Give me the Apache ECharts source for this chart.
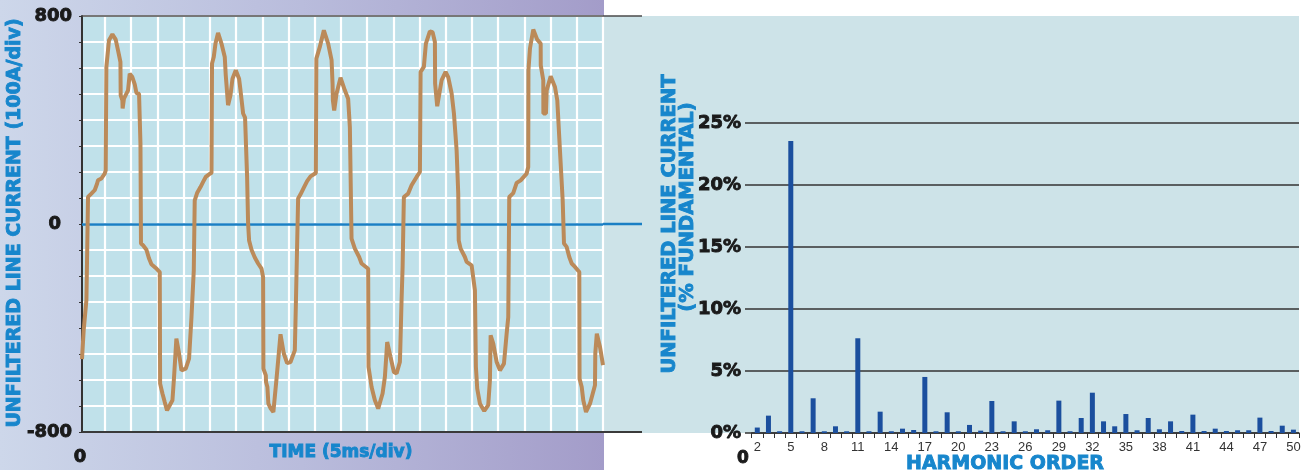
<!DOCTYPE html>
<html>
<head>
<meta charset="utf-8">
<script src="https://cdn.jsdelivr.net/npm/echarts@6/dist/echarts.min.js"></script>
<style>
html,body{margin:0;padding:0;background:#ffffff;}
#chart{width:1312px;height:470px;}
</style>
</head>
<body>
<div id="chart"></div>
<script>
// ---- Left panel: unfiltered line current waveform (time in ms, current in A) ----
const timeMs = [
  0, 0.32, 0.84, 1.15, 1.79, 2.42, 2.87, 3.05, 3.7, 4.33, 4.52, 4.65, 5.15, 5.8, 6.43, 6.87, 7.33, 7.38, 7.7, 7.75,
  8.0, 8.78, 9.1, 9.6, 10.06, 10.38, 10.88, 11.15, 11.25, 11.64, 12.29, 12.79, 13.24, 14.06, 14.83, 14.9, 15.34, 15.78, 16.22, 16.74,
  17.25, 17.56, 18.0, 18.51, 18.97, 19.79, 20.42, 20.88, 21.32, 21.5, 21.95, 22.6, 23.1, 23.6, 24.3, 24.7,
  24.8, 25.13, 25.46, 25.95, 26.6, 27.23, 27.42, 27.86, 28.32, 28.7, 29.33, 29.96, 30.23, 30.6, 30.73, 31.1, 31.49, 31.68, 31.87, 32.33,
  32.96, 33.59, 34.24, 34.54, 34.6, 35.06, 35.1, 35.36, 35.55, 36.0, 36.5, 37.1, 37.86, 38.49, 39.12, 39.77, 40.59, 40.78, 41.22, 41.68,
  42.31, 42.94, 43.59, 44.6,
  44.7, 45.36, 46.13, 46.95, 47.6, 47.79, 47.85, 48.1, 48.55, 49.31, 50.13, 50.76, 51.09, 51.41, 52.04, 52.86, 53.32, 54.58, 54.65, 55.23,
  55.86, 56.49, 57.33, 57.77, 58.21, 58.85, 59.49, 60.0, 60.63, 60.7, 60.95, 61.15, 61.39, 62.21, 62.86, 63.82, 64.45,
  64.58, 65.2, 65.59, 66.35, 66.87, 67.31, 67.35, 67.75, 68.26, 68.59, 69.35, 69.85, 70.5, 70.94, 71.45, 71.76, 71.85, 72.21, 73.03, 73.36,
  74.31, 74.62, 74.94, 75.13, 75.38, 75.9, 76.72, 77.48, 77.8, 77.94, 78.44, 79.09, 79.71, 80.48, 80.99, 81.3, 81.49, 82.25, 82.9, 83.66,
  84.81, 85.11,
  85.15, 85.44, 86.07, 86.83, 87.48, 87.5, 87.98, 88.0, 88.49, 88.63, 89.39, 90.21, 90.65, 91.16, 91.68, 91.93, 92.44, 92.94, 93.4, 94.03,
  94.85, 94.9, 95.31, 95.61, 96.13, 96.89, 97.84, 97.9, 98.19, 98.8, 99.37
];
const currentA = [
  -520, -409, -293, 104, 117, 130, 155, 168, 175, 194, 206, 604, 707, 730, 709, 668, 623, 495, 476, 444,
  482, 514, 578, 565, 537, 504, 501, 309, -75, -82, -99, -133, -155, -169, -185, -614, -652, -685, -717, -697,
  -678, -588, -441, -498, -563, -556, -518, -358, -178, 91, 119, 142, 162, 181, 192, 196,
  617, 642, 694, 735, 694, 642, 572, 457, 495, 559, 591, 559, 514, 508, 425, 409, 181, 2, -63, -99,
  -129, -152, -172, -204, -556, -582, -608, -627, -691, -710, -723, -595, -424, -498, -535, -531, -486, -319, 98, 114,
  140, 165, 183, 196,
  636, 681, 745, 694, 630, 540, 476, 437, 502, 563, 514, 482, 373, -56, -95, -127, -152, -172, -550, -627,
  -678, -710, -652, -588, -454, -512, -569, -575, -531, -486, -293, -165, 104, 117, 149, 181, 200,
  585, 604, 694, 741, 738, 700, 540, 453, 514, 553, 585, 565, 502, 425, 283, 117, -63, -95, -127, -146,
  -159, -165, -255, -550, -633, -691, -719, -697, -601, -428, -460, -531, -563, -537, -422, -358, 104, 119, 158, 168,
  194, 219,
  591, 675, 748, 709, 694, 610, 553, 425, 425, 514, 568, 527, 476, 283, 91, -75, -88, -127, -152, -165,
  -185, -595, -627, -678, -723, -691, -620, -498, -422, -473, -543
];
const leftYTickLabels = [800, 0, -800];

// ---- Right panel: harmonic spectrum (% of fundamental) ----
const harmonicOrders = ['2','3','4','5','6','7','8','9','10','11','12','13','14','15','16','17','18','19','20','21',
  '22','23','24','25','26','27','28','29','30','31','32','33','34','35','36','37','38','39','40','41',
  '42','43','44','45','46','47','48','49','50'];
const harmonicPct = [0.44, 1.40, 0.14, 23.55, 0.14, 2.80, 0.14, 0.54, 0.14, 7.64, 0.14, 1.72, 0.14, 0.35, 0.24, 4.52, 0.14, 1.67, 0.14, 0.65,
  0.19, 2.58, 0.14, 0.94, 0.14, 0.30, 0.22, 2.61, 0.14, 1.21, 3.25, 0.94, 0.54, 1.53, 0.22, 1.21, 0.30, 0.94, 0.16, 1.48,
  0.16, 0.35, 0.16, 0.22, 0.22, 1.24, 0.16, 0.59, 0.27];
const harmonicTickLabels = ['2','5','8','11','14','17','20','23','26','29','32','35','38','41','44','47','50'];

const waveData = timeMs.map((t, i) => [t, currentA[i]]);

const FONT = '"DejaVu Sans", sans-serif';
const BLUE = '#1786cc';
const INK = '#1a1a1a';

function heavyText(x, y, text, size, fill, rot) {
  const el = {type: 'text', z: 50, x: x, y: y,
    style: {text: text, font: 'bold ' + size + 'px ' + FONT, fill: fill, stroke: fill, lineWidth: 0.9,
      align: 'center', verticalAlign: 'middle', textAlign: 'center', textVerticalAlign: 'middle'}};
  if (rot) el.rotation = rot;
  return el;
}

const chart = echarts.init(document.getElementById('chart'), null, {renderer: 'canvas'});

const heavyLabel = {fontFamily: FONT, fontWeight: 'bold', fontSize: 18, color: INK, textBorderColor: INK, textBorderWidth: 0.9};

const option = {
  animation: false,
  backgroundColor: '#ffffff',
  grid: [
    {left: 82, top: 16, width: 521, height: 416, containLabel: false},
    {left: 105, top: 16, width: 498, height: 416, containLabel: false},
    {left: 745, top: 123, width: 554, height: 310, containLabel: false},
    {left: 751.7, top: 123, width: 547.3, height: 310, containLabel: false}
  ],
  xAxis: [
    {gridIndex: 0, type: 'value', min: 0, max: 99.37, show: false},
    {gridIndex: 1, type: 'value', min: 0, max: 95, interval: 5,
      axisLine: {show: false}, axisTick: {show: false}, axisLabel: {show: false},
      splitLine: {show: true, lineStyle: {color: '#ffffff', width: 2.2}}},
    {gridIndex: 2, type: 'value', min: 0, max: 1, show: false},
    {gridIndex: 3, type: 'category', data: harmonicOrders, boundaryGap: true,
      axisLine: {show: true, lineStyle: {color: '#333333', width: 1.5}},
      axisTick: {show: true, interval: 0, length: 5, lineStyle: {color: '#333333', width: 1}},
      axisLabel: {
        interval: (idx, val) => harmonicTickLabels.indexOf(val) >= 0,
        color: '#333333', fontSize: 13, fontFamily: '"Liberation Sans", Arial, sans-serif', margin: 8
      },
      splitLine: {show: false}}
  ],
  yAxis: [
    {gridIndex: 0, type: 'value', min: -800, max: 800, interval: 100,
      axisLine: {show: true, lineStyle: {color: '#333333', width: 2}},
      axisTick: {show: true, length: 3, lineStyle: {color: '#333333', width: 1}},
      axisLabel: {
        margin: 10,
        formatter: v => leftYTickLabels.indexOf(v) < 0 ? '' : (v === 0 ? '{z|0}' : '{n|' + v + '}'),
        rich: {
          n: Object.assign({}, heavyLabel),
          z: Object.assign({}, heavyLabel, {padding: [0, 11, 0, 0]})
        }
      },
      splitLine: {show: true, lineStyle: {color: '#ffffff', width: 2.2}}},
    {gridIndex: 1, type: 'value', min: -800, max: 800, show: false},
    {gridIndex: 2, type: 'value', min: 0, max: 25, interval: 5,
      axisLine: {show: false}, axisTick: {show: false},
      axisLabel: Object.assign({formatter: '{value}%', margin: 4}, heavyLabel),
      splitLine: {show: true, lineStyle: {color: '#333333', width: 1.5}}},
    {gridIndex: 3, type: 'value', min: 0, max: 25, show: false}
  ],
  series: [
    {
      type: 'line', xAxisIndex: 0, yAxisIndex: 0, data: waveData,
      showSymbol: false, symbol: 'none', smooth: false, z: 5,
      lineStyle: {color: '#bb8a59', width: 4},
      markLine: {
        silent: true, symbol: 'none', label: {show: false},
        lineStyle: {color: '#1a7fc4', width: 2.5, type: 'solid'},
        data: [{yAxis: 0}]
      }
    },
    {
      type: 'bar', xAxisIndex: 3, yAxisIndex: 3, data: harmonicPct,
      barWidth: 5, itemStyle: {color: '#1b4f9e'}, z: 5
    }
  ],
  graphic: [
    // backgrounds
    {type: 'rect', z: -100, shape: {x: 0, y: 0, width: 604, height: 470},
      style: {fill: new echarts.graphic.LinearGradient(0, 0, 1, 0, [
        {offset: 0, color: '#cdd7ea'}, {offset: 0.5, color: '#b9bcdc'}, {offset: 1, color: '#a39cc9'}])}},
    {type: 'rect', z: -99, shape: {x: 82, y: 16, width: 521, height: 416}, style: {fill: '#c0e1ea'}},
    {type: 'rect', z: -100, shape: {x: 603, y: 16, width: 696, height: 417}, style: {fill: '#cde3e8'}},
    // frame lines of the left panel
    {type: 'line', z: 50, shape: {x1: 82, y1: 16, x2: 642, y2: 16}, style: {stroke: '#4a4a4a', lineWidth: 1.5}},
    {type: 'line', z: 50, shape: {x1: 82, y1: 432, x2: 642, y2: 432}, style: {stroke: '#3a3a3a', lineWidth: 2}},
    {type: 'line', z: 50, shape: {x1: 603, y1: 224, x2: 642, y2: 224}, style: {stroke: '#1a7fc4', lineWidth: 2.5}},
    // titles and corner labels
    heavyText(15, 223, 'UNFILTERED LINE CURRENT (100A/div)', 19, BLUE, Math.PI / 2),
    heavyText(341, 453, 'TIME (5ms/div)', 17, BLUE),
    heavyText(80, 457, '0', 18, INK),
    heavyText(670, 224, 'UNFILTERED LINE CURRENT', 19.5, BLUE, Math.PI / 2),
    heavyText(688, 207, '(% FUNDAMENTAL)', 19.5, BLUE, Math.PI / 2),
    heavyText(743, 459, '0', 17, INK),
    heavyText(1005, 464, 'HARMONIC ORDER', 19, BLUE)
  ]
};
chart.setOption(option);
</script>
</body>
</html>
